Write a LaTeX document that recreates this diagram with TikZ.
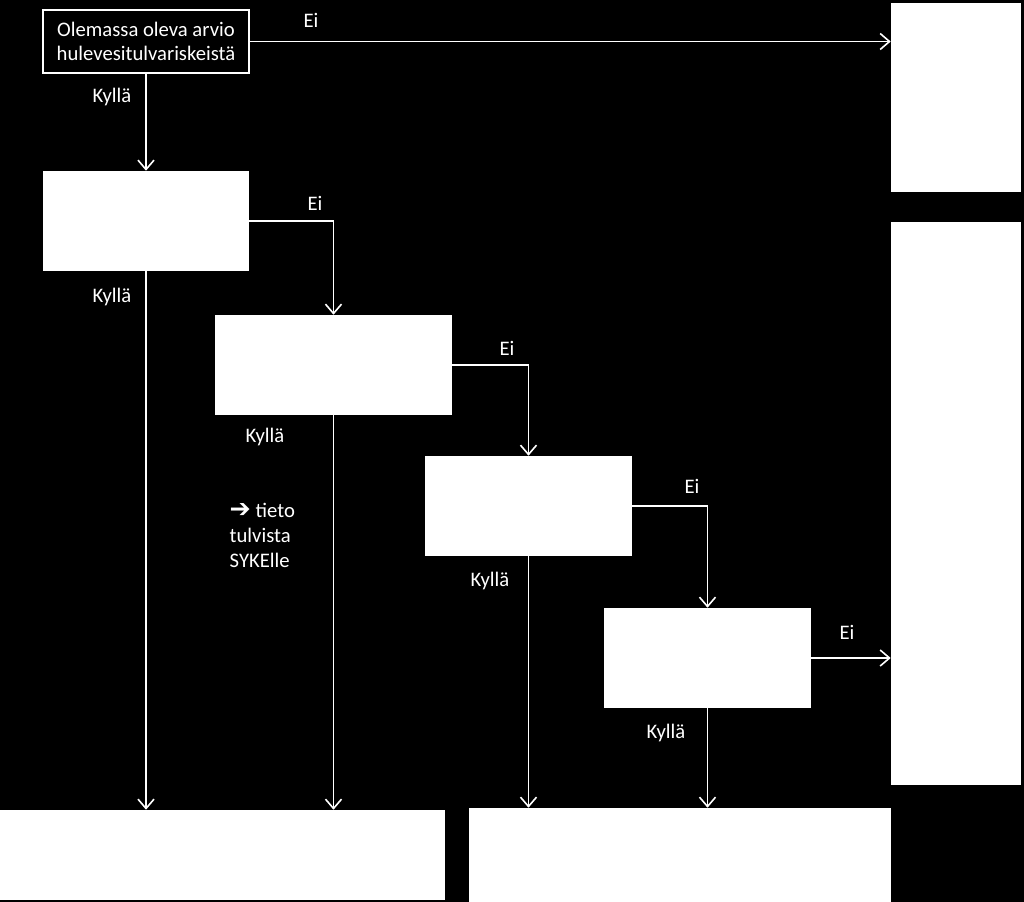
\documentclass[tikz,border=0pt]{standalone}
\usepackage{fontspec}
\setmainfont{Carlito}
\newfontfamily\symfont{DejaVu Sans}
\usetikzlibrary{arrows.meta}

\tikzset{
  whitebox/.style={rectangle, fill=white, draw=none, inner sep=0pt},
  flow/.style={-{Straight Barb[length=7pt,width=12pt]}, draw=white, line width=1.2pt},
  lbl/.style={text=white, font=\fontsize{15.5}{17.5}\selectfont}
}

\begin{document}
\begin{tikzpicture}[x=0.75pt, y=-0.75pt]
		\fill[black] (0,0) rectangle (1024,902);
		\useasboundingbox (0,0) rectangle (1024,902);

		\node (start) [rectangle, draw=white, line width=1.5pt, fill=black, inner sep=0pt,
			minimum width=206*0.75pt, minimum height=63*0.75pt, align=center, lbl] at (146,41.5)
			{Olemassa oleva arvio\\hulevesitulvariskeistä};
		\node (topR) [whitebox, minimum width=130*0.75pt, minimum height=189*0.75pt] at (956,97.5) {};
		\node (tallR) [whitebox, minimum width=130*0.75pt, minimum height=563*0.75pt] at (956,503.5) {};

		\node (q2) [whitebox, minimum width=206*0.75pt, minimum height=100*0.75pt] at (146,221) {};
		\node (q3) [whitebox, minimum width=237*0.75pt, minimum height=100*0.75pt] at (333.5,365) {};
		\node (q4) [whitebox, minimum width=207*0.75pt, minimum height=100*0.75pt] at (528.5,506) {};
		\node (q5) [whitebox, minimum width=207*0.75pt, minimum height=100*0.75pt] at (707.5,658) {};

		\node (botL) [whitebox, minimum width=445*0.75pt, minimum height=90*0.75pt] at (222.5,855) {};
		\node (botR) [whitebox, minimum width=422*0.75pt, minimum height=94*0.75pt] at (680,855) {};

		% Ei branches
		\draw[flow] (start.east) -- (start.east -| topR.west);
		\node (ei1) [lbl] at (311,20) {Ei};
		\draw[flow] (q2.east) -| (q3.north);
		\node (ei2) [lbl] at (315,203) {Ei};
		\draw[flow] (q3.east) -| (q4.north);
		\node (ei3) [lbl] at (507,348) {Ei};
		\draw[flow] (q4.east) -| (q5.north);
		\node (ei4) [lbl] at (692,486) {Ei};
		\draw[flow] (q5.east) -- (q5.east -| tallR.west);
		\node (ei5) [lbl] at (847,632) {Ei};

		% Kyllä branches
		\draw[flow] (start.south) -- (q2.north);
		\node (k1) [lbl] at (112,97) {Kyllä};
		\draw[flow] (q2.south) -- (q2.south |- botL.north);
		\node (k2) [lbl] at (112,297) {Kyllä};
		\draw[flow] (q3.south) -- (q3.south |- botL.north);
		\node (k3) [lbl] at (265,437) {Kyllä};
		\draw[flow] (q4.south) -- (q4.south |- botR.north);
		\node (k4) [lbl] at (490,581) {Kyllä};
		\draw[flow] (q5.south) -- (q5.south |- botR.north);
		\node (k5) [lbl] at (666,733) {Kyllä};

		\node (note) [lbl, align=left, anchor=north west, font=\fontsize{15.5}{19}\selectfont] at (225,498)
			{{\symfont\bfseries\fontsize{19}{19}\selectfont ➔} tieto\\tulvista\\SYKElle};

	\end{tikzpicture}
\end{document}
